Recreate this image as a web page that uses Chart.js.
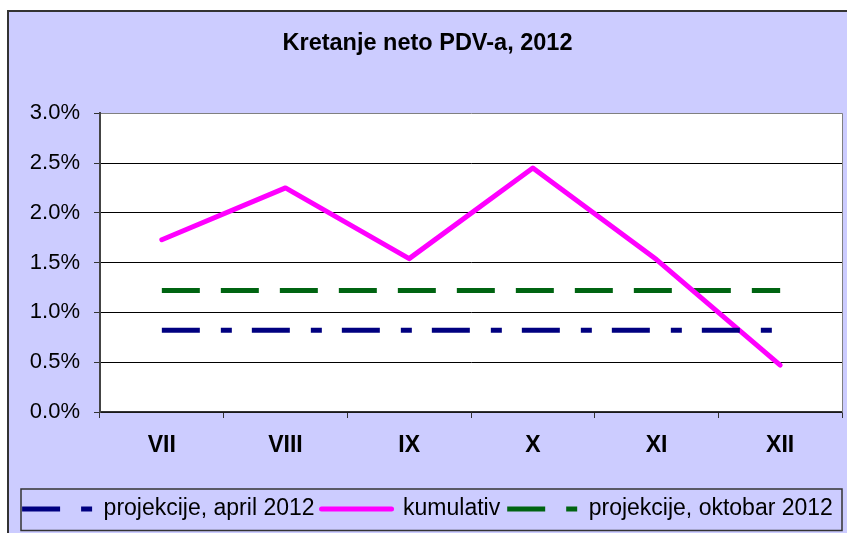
<!DOCTYPE html>
<html>
<head>
<meta charset="utf-8">
<script src="https://cdn.jsdelivr.net/npm/chart.js@4.4.0/dist/chart.umd.min.js"></script>
<style>
  body { margin: 0; background: #fff; }
  #wrap { width: 847px; height: 533px; }
</style>
</head>
<body>
<div id="wrap"><canvas id="myChart" width="847" height="533"></canvas></div>
<script>
// mjeseci
var mjeseci = ['VII', 'VIII', 'IX', 'X', 'XI', 'XII'];
// vrijednosti u %
var projekcijaApril = [0.82, 0.82, 0.82, 0.82, 0.82, 0.82];
var kumulativ = [1.73, 2.25, 1.54, 2.45, 1.53, 0.47];
var projekcijaOktobar = [1.22, 1.22, 1.22, 1.22, 1.22, 1.22];

var pozadina = {
    id: 'pozadina',
    beforeDraw: function (chart) {
        var c = chart.ctx;
        var a = chart.chartArea;
        c.save();
        // okvir grafikona
        c.fillStyle = '#CCCCFF';
        c.fillRect(8, 11, chart.width, chart.height);
        c.strokeStyle = '#333333';
        c.lineWidth = 2;
        c.beginPath();
        c.moveTo(8, chart.height);
        c.lineTo(8, 11);
        c.lineTo(chart.width, 11);
        c.stroke();
        // bijela povrsina
        c.fillStyle = '#FFFFFF';
        c.fillRect(a.left, a.top, a.right - a.left, a.bottom - a.top);
        c.restore();
    },
    afterDraw: function (chart) {
        var c = chart.ctx;
        var a = chart.chartArea;
        var l = chart.legend;
        c.save();
        c.strokeStyle = '#808080';
        c.lineWidth = 1;
        c.beginPath();
        c.moveTo(a.right + 0.5, a.top);
        c.lineTo(a.right + 0.5, a.bottom);
        c.stroke();
        // okvir legende
        c.strokeStyle = '#333333';
        c.lineWidth = 1.5;
        c.strokeRect(21, l.top - 1.5, 821, l.bottom - l.top + 1.5);
        c.restore();
    }
};

var ctx = document.getElementById('myChart');
var linechart = new Chart(ctx, {
    type: 'line',
    data: {
        labels: mjeseci,
        datasets: [{
            label: 'projekcije, april 2012',
            data: projekcijaApril,
            borderColor: '#000080',
            backgroundColor: '#000080',
            borderWidth: 5,
            borderDash: [38, 21, 11, 20],
            borderCapStyle: 'butt',
            pointRadius: 0
        }, {
            label: 'kumulativ',
            data: kumulativ,
            borderColor: '#FF00FF',
            backgroundColor: '#FF00FF',
            borderWidth: 5,
            borderCapStyle: 'round',
            borderJoinStyle: 'round',
            pointRadius: 0
        }, {
            label: 'projekcije, oktobar 2012',
            data: projekcijaOktobar,
            borderColor: '#006411',
            backgroundColor: '#006411',
            borderWidth: 5,
            borderDash: [38, 21],
            borderCapStyle: 'butt',
            pointRadius: 0
        }]
    },
    options: {
        responsive: false,
        animation: false,
        layout: {
            padding: { left: 13, right: 5, top: 0, bottom: 2.5 }
        },
        scales: {
            x: {
                offset: true,
                grid: {
                    offset: true,
                    drawOnChartArea: false,
                    tickLength: 6,
                    tickColor: '#333333'
                },
                border: { color: '#333333', width: 1.5 },
                ticks: {
                    color: '#000',
                    padding: 14,
                    font: { family: 'Liberation Sans, Arial', size: 23, weight: 'bold' }
                },
                afterFit: function (scale) { scale.height = 78.5; }
            },
            y: {
                min: 0,
                max: 3,
                grid: {
                    color: function (c) { return c.tick && c.tick.value === 3 ? '#808080' : '#000000'; },
                    tickColor: '#333333',
                    tickLength: 6,
                    lineWidth: 1
                },
                border: { color: '#444444', width: 2 },
                ticks: {
                    stepSize: 0.5,
                    color: '#000',
                    padding: 14,
                    font: { family: 'Liberation Sans, Arial', size: 22 },
                    callback: function (v) { return v.toFixed(1) + '%'; }
                },
                afterFit: function (scale) { scale.width = 87; }
            }
        },
        plugins: {
            title: {
                display: true,
                text: 'Kretanje neto PDV-a, 2012',
                color: '#000',
                font: { family: 'Liberation Sans, Arial', size: 23.5, weight: 'bold' },
                padding: { top: 29, bottom: 56 }
            },
            legend: {
                position: 'bottom',
                labels: {
                    color: '#000',
                    font: { family: 'Liberation Sans, Arial', size: 23 },
                    usePointStyle: true,
                    pointStyle: 'line',
                    pointStyleWidth: 70,
                    padding: 7,
                    generateLabels: function (chart) {
                        return chart.data.datasets.map(function (ds, i) {
                            return {
                                text: ds.label,
                                datasetIndex: i,
                                fillStyle: ds.borderColor,
                                strokeStyle: ds.borderColor,
                                fontColor: '#000',
                                lineWidth: ds.borderWidth,
                                lineDash: ds.borderDash || [],
                                lineCap: ds.borderCapStyle,
                                pointStyle: 'line',
                                hidden: false
                            };
                        });
                    }
                }
            },
            tooltip: { enabled: false }
        }
    },
    plugins: [pozadina]
});
</script>
</body>
</html>
